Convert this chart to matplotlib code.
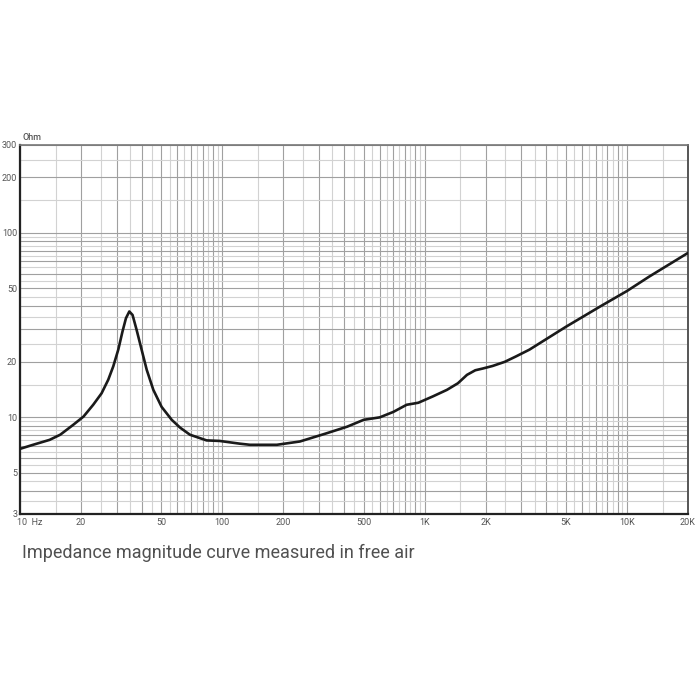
"""Impedance magnitude curve (free air), log-log chart."""
import matplotlib

matplotlib.use("Agg")
import matplotlib.pyplot as plt
from matplotlib.transforms import blended_transform_factory

# measured curve
freq = [10, 11.6, 14, 15.8, 18.3, 20.6, 23, 25.3, 27.3, 28.9, 30.6, 32.1,
        33.4, 34.7, 36.0, 37.7, 39.9, 42.3, 45.6, 50.1, 56.2, 61.8, 69.2,
        83.6, 97, 122, 137, 186, 242, 328, 414, 500, 600, 700, 815, 931,
        1100, 1290, 1460, 1620, 1780, 1940, 2170, 2490, 2830, 3300, 5000,
        7400, 10000, 12900, 20000]
impedance = [6.75, 7.1, 7.55, 8.05, 9.1, 10.1, 11.7, 13.5, 16.0, 18.9, 23.3,
             29.2, 34.5, 37.5, 35.9, 29.8, 23.3, 18.1, 14.1, 11.4, 9.7, 8.8,
             8.05, 7.5, 7.45, 7.2, 7.1, 7.1, 7.4, 8.2, 8.9, 9.7, 10.0, 10.7,
             11.7, 12.0, 13.0, 14.1, 15.3, 17.0, 18.0, 18.4, 19.0, 20.0, 21.4,
             23.3, 31, 40, 48.4, 58, 77.8]

x_labels = {10: "", 20: "20", 50: "50", 100: "100", 200: "200", 500: "500",
            1000: "1K", 2000: "2K", 5000: "5K", 10000: "10K", 20000: "20K"}
y_labels = {3: "3", 5: "5", 10: "10", 20: "20", 50: "50", 100: "100",
            200: "200", 300: "300"}

caption = "Impedance magnitude curve measured in free air"

plt.rcParams["font.family"] = ["Roboto", "DejaVu Sans"]

# grid positions: integer and half steps in each decade
x_major = [d * k for d in (10, 100, 1000) for k in range(1, 10)] + [10000, 20000]
x_minor = [d * (k + 0.5) for d in (10, 100, 1000) for k in range(1, 10)] + [15000]
y_major = [k for k in range(3, 10)] + [10 * k for k in range(1, 10)] + [100, 200, 300]
y_minor = [k + 0.5 for k in range(3, 10)] + [10 * (k + 0.5) for k in range(1, 10)] + [150, 250]

fig = plt.figure(figsize=(7, 7), dpi=100)
ax = fig.add_axes([0.0286, 0.266, 0.954, 0.527])

ax.plot(freq, impedance, color="#1a1a1a", lw=1.9, solid_capstyle="round",
        solid_joinstyle="round", zorder=5)

ax.set_xscale("log")
ax.set_yscale("log")
ax.set_xlim(10, 20000)
ax.set_ylim(3, 300)

ax.set_xticks(x_major, [x_labels.get(v, "") for v in x_major])
ax.set_xticks(x_minor, minor=True)
ax.set_yticks(y_major, [y_labels.get(v, "") for v in y_major])
ax.set_yticks(y_minor, minor=True)
ax.xaxis.set_minor_formatter(plt.NullFormatter())
ax.yaxis.set_minor_formatter(plt.NullFormatter())

ax.grid(which="major", color="#a0a0a0", lw=0.8)
ax.grid(which="minor", color="#d2d2d2", lw=0.8)
ax.set_axisbelow(True)

ax.tick_params(which="both", length=0, labelsize=6.5, labelcolor="#555555")
ax.tick_params(axis="x", pad=3)
ax.tick_params(axis="y", pad=2)

for side, col, lw in (("left", "#222222", 1.6), ("bottom", "#222222", 1.6),
                      ("top", "#777777", 1.2), ("right", "#555555", 1.4)):
    ax.spines[side].set_color(col)
    ax.spines[side].set_linewidth(lw)

trans = blended_transform_factory(ax.transData, ax.transAxes)
ax.text(9.7, -0.012, "10  Hz", transform=trans, ha="left", va="top",
        fontsize=6.5, color="#555555")
ax.text(0.004, 1.008, "Ohm", transform=ax.transAxes, ha="left", va="bottom",
        fontsize=6.5, color="#555555", fontweight="medium")

fig.text(0.031, 0.21, caption, ha="left", va="center", fontsize=13,
         color="#505050")

fig.savefig("out.png", dpi=100, facecolor="white")
